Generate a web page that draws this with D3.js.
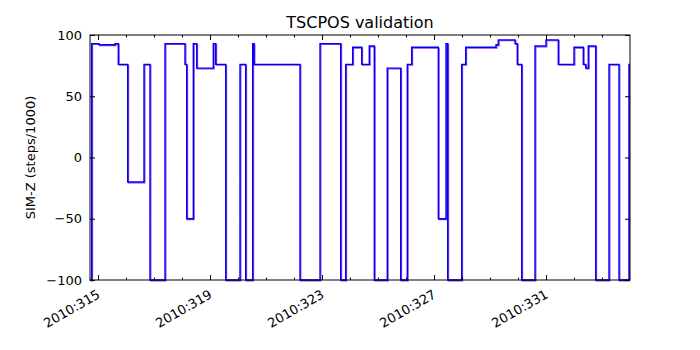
<!DOCTYPE html>
<html>
<head>
<meta charset="utf-8">
<script src="https://cdn.jsdelivr.net/npm/d3@7"></script>
<style>
  body { margin: 0; background: #fff; }
  svg text { font-family: "DejaVu Sans", sans-serif; }
</style>
</head>
<body>
<svg id="chart" width="700" height="350"></svg>
<script>
// Day-of-year (2010) at each step change, and SIM-Z value (steps/1000) after it
const times = [314.714, 314.775, 315.036, 315.607, 315.725, 316.061, 316.643, 316.857,
  317.393, 318.107, 318.168, 318.404, 318.525, 319.118, 319.204, 319.561, 320.071,
  320.275, 320.525, 320.571, 322.214, 322.929, 323.668, 323.846, 324.096, 324.418,
  324.689, 324.868, 325.332, 325.811, 326.046, 326.204, 327.154, 327.429, 327.489,
  327.989, 328.132, 329.214, 329.296, 329.893, 329.975, 330.132, 330.607, 331.0,
  331.439, 332.0, 332.332, 332.418, 332.511, 332.775, 333.25, 333.607, 333.964, 334.0];
const telemValues = [-100, 93, 92, 93, 76, -20, 76, -100,
  93, 76, -50, 93, 73, 93, 76, -100, 76,
  -100, 93, 76, -100, 93, -100, 76, 90, 76,
  91, -100, 73, -100, 76, 90, -50, 93, -100,
  76, 90, 92, 96, 93, 76, -100, 91, 96,
  76, 90, 76, 73, 91, -100, 76, -100, 76, 76];
const cmdValues = telemValues.slice();
const yTicks = [-100, -50, 0, 50, 100];
const xMajorTicks = [315, 319, 323, 327, 331];
const xMinorTicks = [315,316,317,318,319,320,321,322,323,324,325,326,327,328,329,330,331,332,333];
const title = "TSCPOS validation";
const yLabel = "SIM-Z (steps/1000)";
const xDomain = [314.714, 334.0];

const svg = d3.select("#chart");
const L = 90, R = 630, T = 35, B = 280;
const x = d3.scaleLinear().domain(xDomain).range([L, R]);
const y = d3.scaleLinear().domain([-100, 100]).range([B, T]);

const fmtY = d => (d < 0 ? "\u2212" + Math.abs(d) : String(d));

const line = d3.line().x(d => x(d[0])).y(d => y(d[1])).curve(d3.curveStepAfter);

svg.append("clipPath").attr("id", "clip")
  .append("rect").attr("x", L).attr("y", T - 2).attr("width", R - L).attr("height", B - T + 4);

const g = svg.append("g").attr("clip-path", "url(#clip)");
g.append("path")
  .datum(times.map((t, i) => [t, cmdValues[i]]))
  .attr("d", line).attr("fill", "none")
  .attr("stroke", "#9040d0").attr("stroke-width", 1.3)
  .attr("transform", "translate(0.8,0.8)");
g.append("path")
  .datum(times.map((t, i) => [t, telemValues[i]]))
  .attr("d", line).attr("fill", "none")
  .attr("stroke", "#0000ff").attr("stroke-width", 1.4);

// frame
svg.append("rect").attr("x", L).attr("y", T).attr("width", R - L).attr("height", B - T)
  .attr("fill", "none").attr("stroke", "#000").attr("stroke-width", 1);

// axes with inward ticks
const axB = d3.axisBottom(x).tickValues(xMajorTicks).tickSize(-5).tickFormat("");
const axBm = d3.axisBottom(x).tickValues(xMinorTicks).tickSize(-2.5).tickFormat("");
const axT = d3.axisTop(x).tickValues(xMajorTicks).tickSize(-5).tickFormat("");
const axTm = d3.axisTop(x).tickValues(xMinorTicks).tickSize(-2.5).tickFormat("");
const axL = d3.axisLeft(y).tickValues(yTicks).tickSize(-5).tickPadding(8).tickFormat(fmtY);
const axR = d3.axisRight(y).tickValues(yTicks).tickSize(-5).tickFormat("");

function style(sel) {
  sel.select(".domain").remove();
  sel.selectAll(".tick line").attr("stroke", "#000").attr("stroke-width", 1);
  sel.selectAll("text").attr("fill", "#000").style("font-size", "13px");
}
svg.append("g").attr("transform", `translate(0,${B})`).call(axB).call(style);
svg.append("g").attr("transform", `translate(0,${B})`).call(axBm).call(style);
svg.append("g").attr("transform", `translate(0,${T})`).call(axT).call(style);
svg.append("g").attr("transform", `translate(0,${T})`).call(axTm).call(style);
svg.append("g").attr("transform", `translate(${L},0)`).call(axL).call(style);
svg.append("g").attr("transform", `translate(${R},0)`).call(axR).call(style);

// rotated x tick labels
svg.append("g").selectAll("text").data(xMajorTicks).join("text")
  .attr("transform", d => `translate(${x(d) + 3},${B + 17}) rotate(-30)`)
  .attr("text-anchor", "end")
  .style("font-size", "13px")
  .text(d => "2010:" + d);

svg.append("text").attr("x", (L + R) / 2).attr("y", 28)
  .attr("text-anchor", "middle").style("font-size", "16px").text(title);

svg.append("text")
  .attr("transform", `translate(35,${(T + B) / 2}) rotate(-90)`)
  .attr("text-anchor", "middle").style("font-size", "13px").text(yLabel);
</script>
</body>
</html>
